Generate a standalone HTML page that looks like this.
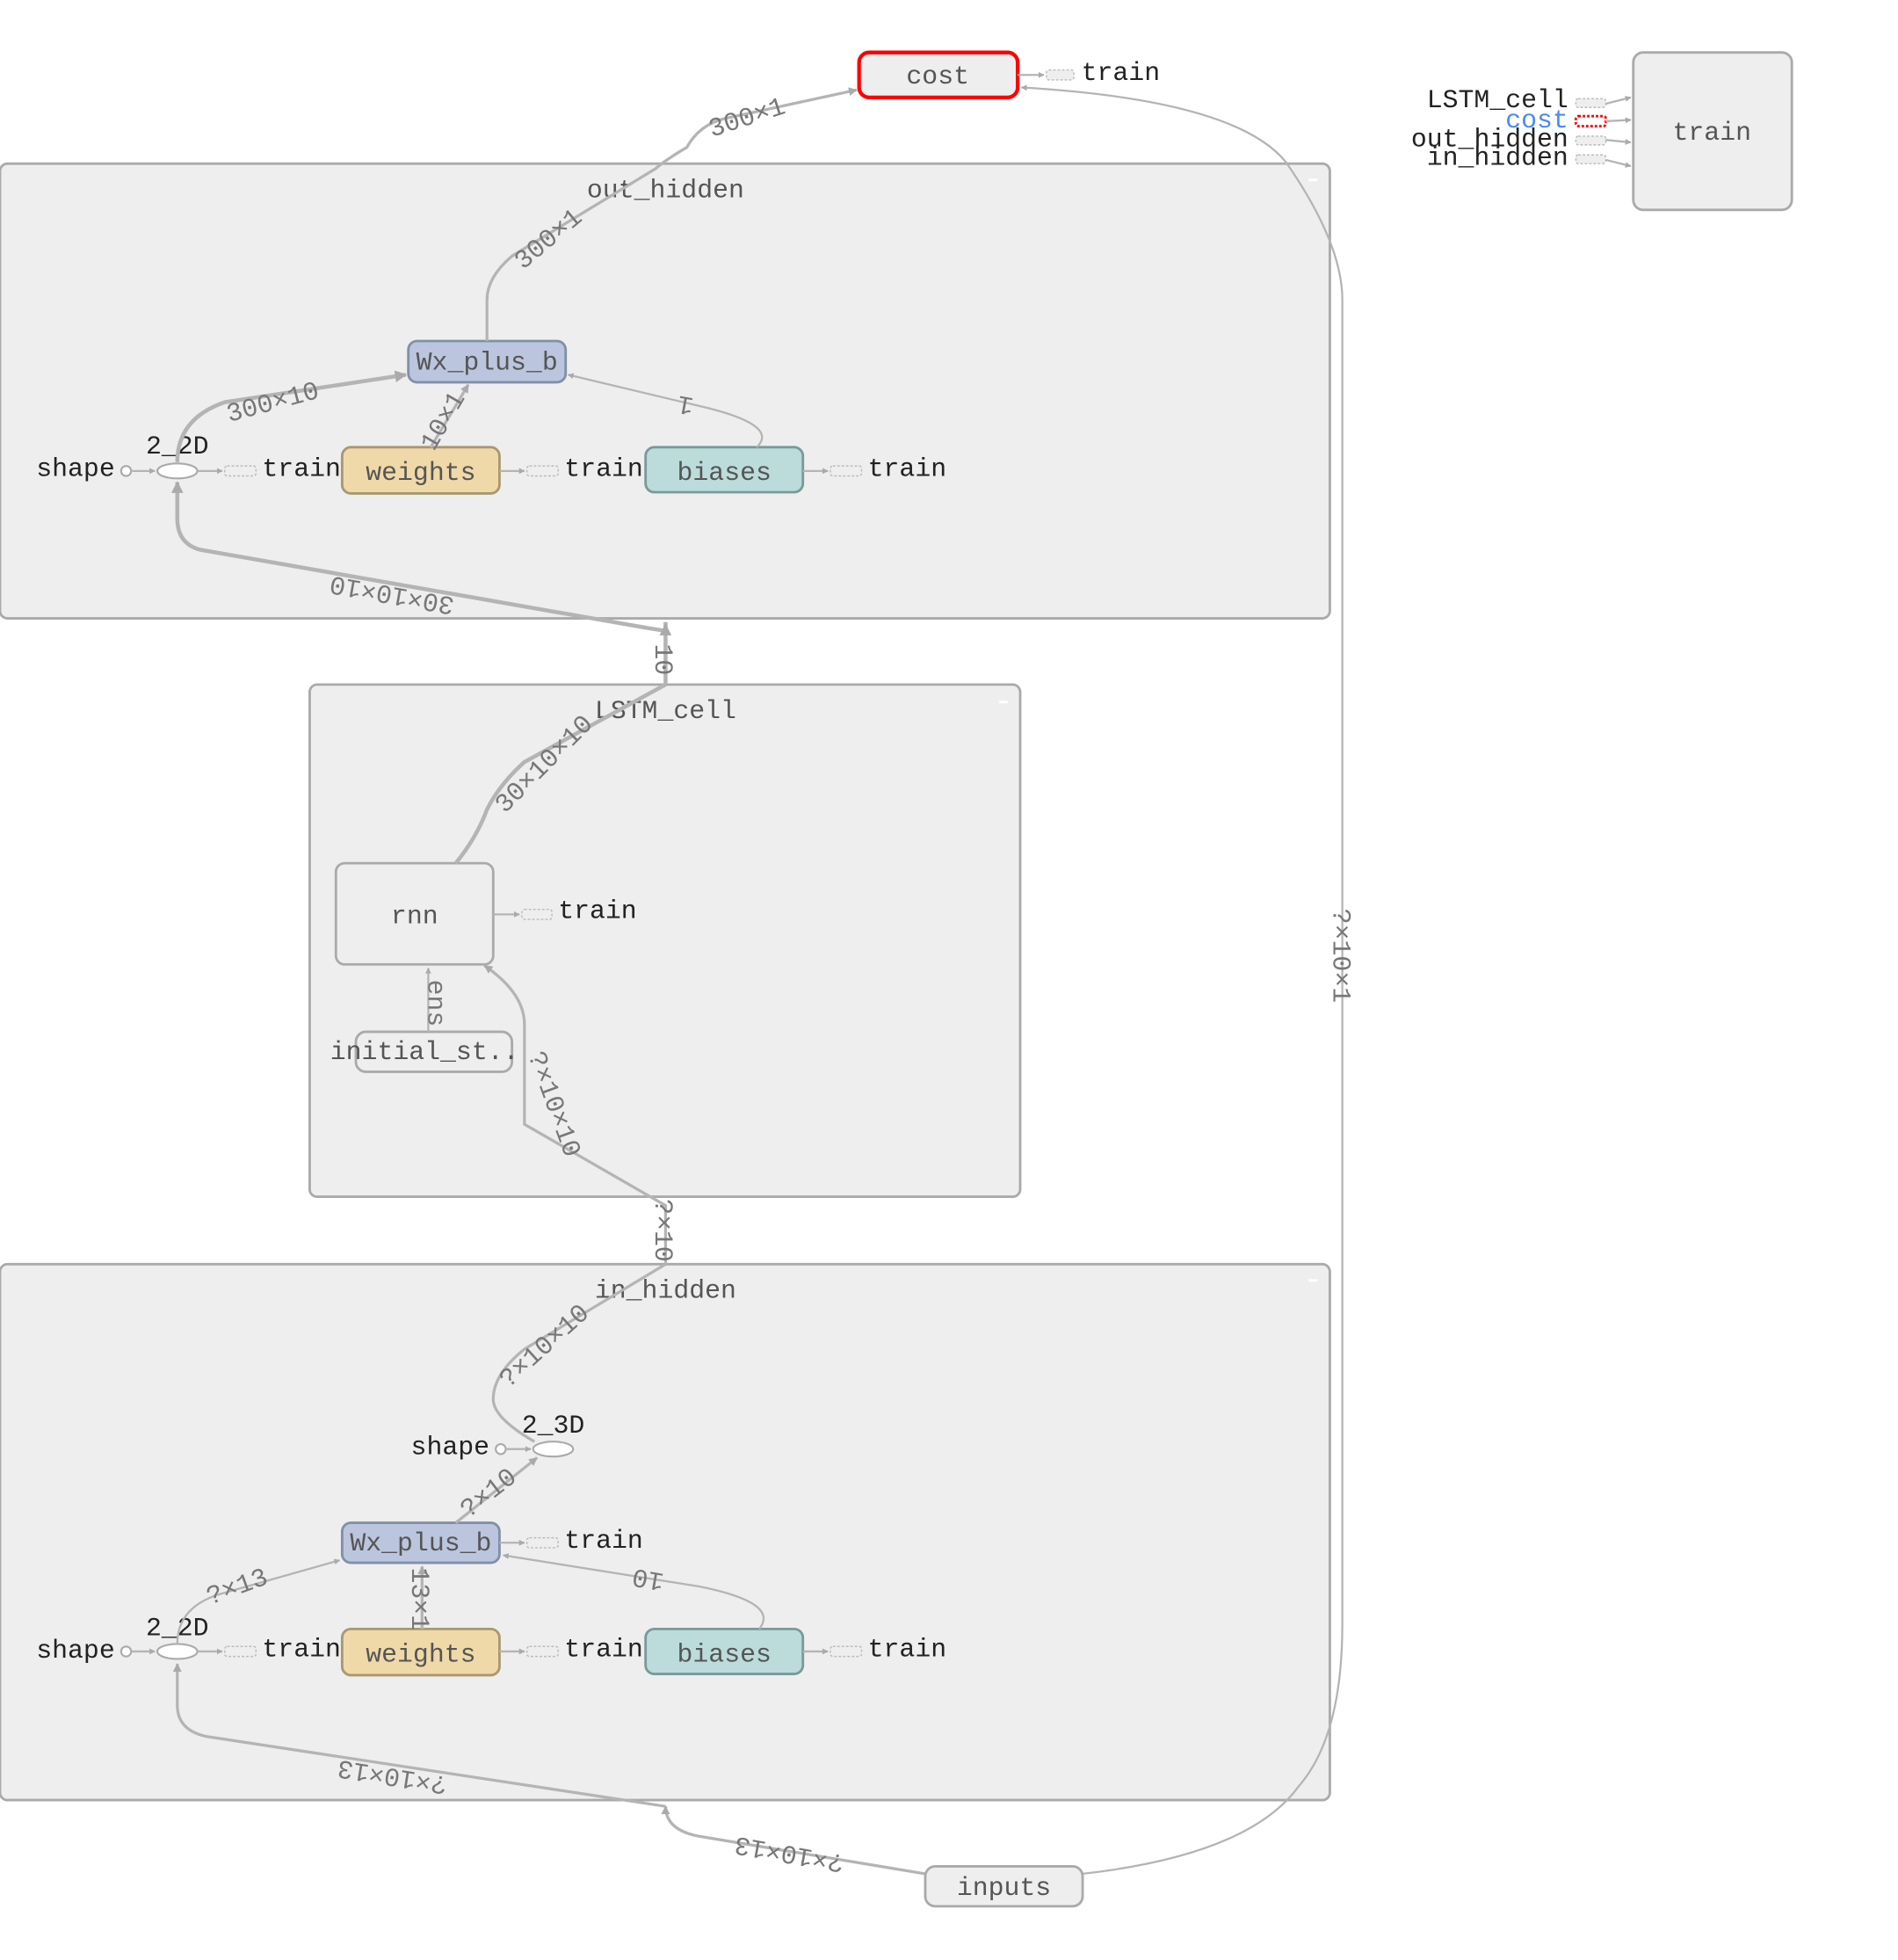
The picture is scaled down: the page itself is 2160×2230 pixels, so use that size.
<!DOCTYPE html>
<html><head><meta charset="utf-8"><style>
html,body{margin:0;padding:0;background:#fff;}
svg{display:block;}
text{font-family:"Liberation Mono","Noto Sans CJK SC",monospace;font-size:21px;fill:#222;}
.g{fill:#555;}
.el{fill:#777;font-size:21px;}
.e{fill:none;stroke:#b4b4b4;stroke-width:1.6;}
.t{fill:none;stroke:#b4b4b4;stroke-width:3.2;}
.m{fill:none;stroke:#b4b4b4;stroke-width:2.3;}
.cl{fill:#eeeeee;stroke:#aaaaaa;stroke-width:2;}
.sm{fill:#eee;stroke:#bbb;stroke-width:1;stroke-dasharray:2,1.5;}
</style></head><body>
<svg width="2160" height="2230" viewBox="0 0 1520 1569" preserveAspectRatio="none" xmlns="http://www.w3.org/2000/svg">
<defs>
<marker id="a" viewBox="0 0 10 10" refX="9" refY="5" markerWidth="5" markerHeight="5" orient="auto"><path d="M0,0L10,5L0,10z" fill="#aaa"/></marker>
<marker id="as" viewBox="0 0 10 10" refX="9" refY="5" markerWidth="3" markerHeight="3" orient="auto"><path d="M0,0L10,5L0,10z" fill="#aaa"/></marker>
</defs>

<!-- clusters -->
<rect class="cl" x="0" y="131" width="1065" height="364" rx="6"/>
<text class="g" x="533" y="158" text-anchor="middle">out_hidden</text>
<rect class="cl" x="248" y="548" width="569" height="410" rx="6"/>
<text class="g" x="533" y="575" text-anchor="middle">LSTM_cell</text>
<rect class="cl" x="0" y="1012" width="1065" height="429" rx="6"/>
<text class="g" x="533" y="1039" text-anchor="middle">in_hidden</text>
<rect x="1048" y="143" width="7" height="2" fill="#fff"/>
<rect x="800" y="561" width="7" height="2" fill="#fff"/>
<rect x="1048" y="1024" width="7" height="2" fill="#fff"/>

<!-- top: cost -->
<rect x="688" y="42" width="127" height="36" rx="8" fill="#eee" stroke="#f00" stroke-width="3"/>
<text class="g" x="751" y="67" text-anchor="middle">cost</text>
<path class="e" d="M815,60L836,60" marker-end="url(#as)"/>
<rect class="sm" x="838" y="56" width="22" height="8" rx="2"/>
<text x="866" y="64">train</text>

<!-- train box right -->
<rect x="1308" y="42" width="127" height="126" rx="8" fill="#eee" stroke="#aaa" stroke-width="2"/>
<text class="g" x="1371" y="112" text-anchor="middle">train</text>
<text x="1256" y="86" text-anchor="end">LSTM_cell</text>
<text x="1256" y="102" text-anchor="end" style="fill:#4a8af4">cost</text>
<text x="1256" y="117" text-anchor="end">out_hidden</text>
<text x="1256" y="132" text-anchor="end">in_hidden</text>
<rect class="sm" x="1262" y="79" width="24" height="7" rx="2"/>
<rect x="1262" y="93" width="24" height="8" rx="2" fill="#fff" stroke="#f00" stroke-width="2" stroke-dasharray="2,1.5"/>
<rect class="sm" x="1262" y="109" width="24" height="7" rx="2"/>
<rect class="sm" x="1262" y="124" width="24" height="7" rx="2"/>
<path class="e" d="M1286,83L1306,78" marker-end="url(#as)"/>
<path class="e" d="M1286,97L1306,96" marker-end="url(#as)"/>
<path class="e" d="M1286,112L1306,114" marker-end="url(#as)"/>
<path class="e" d="M1286,128L1306,133" marker-end="url(#as)"/>

<!-- out_hidden nodes -->
<rect x="327" y="273" width="126" height="33" rx="7" fill="#bbc5de" stroke="#8090a8" stroke-width="2"/>
<text class="g" x="390" y="296" text-anchor="middle">Wx_plus_b</text>
<rect x="274" y="358" width="126" height="37" rx="7" fill="#f0d9a8" stroke="#a89870" stroke-width="2"/>
<text class="g" x="337" y="384" text-anchor="middle">weights</text>
<rect x="517" y="358" width="126" height="36" rx="7" fill="#bcdcdb" stroke="#7a9a98" stroke-width="2"/>
<text class="g" x="580" y="384" text-anchor="middle">biases</text>
<text x="92" y="381" text-anchor="end">shape</text>
<circle cx="101" cy="377" r="4" fill="#fff" stroke="#aaa" stroke-width="1.5"/>
<path class="e" d="M105,377L124,377" marker-end="url(#as)"/>
<ellipse cx="142" cy="377" rx="16" ry="6" fill="#fff" stroke="#aaa" stroke-width="1.5"/>
<text x="142" y="363" text-anchor="middle">2_2D</text>
<path class="e" d="M158,377L178,377" marker-end="url(#as)"/>
<rect class="sm" x="180" y="373" width="25" height="8" rx="2"/>
<text x="210" y="381">train</text>
<path class="e" d="M400,377L420,377" marker-end="url(#as)"/>
<rect class="sm" x="422" y="373" width="25" height="8" rx="2"/>
<text x="452" y="381">train</text>
<path class="e" d="M643,377L663,377" marker-end="url(#as)"/>
<rect class="sm" x="665" y="373" width="25" height="8" rx="2"/>
<text x="695" y="381">train</text>

<!-- out_hidden edges -->
<path class="t" d="M533,498L533,505Q533,505 520,503L160,440Q142,435 142,415L142,386" marker-end="url(#as)"/>
<text class="el" transform="translate(315,470) rotate(190)" text-anchor="middle">30×10×10</text>
<path class="t" d="M142,370Q142,335 180,322L325,300" marker-end="url(#as)"/>
<text class="el" transform="translate(220,328) rotate(-15)" text-anchor="middle">300×10</text>
<path class="m" d="M345,358L375,308" marker-end="url(#as)"/>
<text class="el" transform="translate(360,340) rotate(-60)" text-anchor="middle">10×1</text>
<path class="e" d="M606,358Q625,340 560,325L455,300" marker-end="url(#as)"/>
<text class="el" transform="translate(550,318) rotate(190)" text-anchor="middle">1</text>
<path class="m" d="M390,273L390,240Q390,222 410,205L525,135Q533,128 550,118Q560,100 580,95L686,72" marker-end="url(#as)"/>
<text class="el" transform="translate(443,196) rotate(-40)" text-anchor="middle">300×1</text>
<text class="el" transform="translate(600,100) rotate(-18)" text-anchor="middle">300×1</text>

<!-- LSTM→out -->
<path class="t" d="M533,548L533,500" marker-end="url(#as)"/>
<text class="el" transform="translate(525,528) rotate(90)" text-anchor="middle">10</text>

<!-- LSTM nodes -->
<rect x="269" y="691" width="126" height="81" rx="7" fill="#eee" stroke="#aaa" stroke-width="2"/>
<text class="g" x="332" y="739" text-anchor="middle">rnn</text>
<path class="e" d="M395,732L416,732" marker-end="url(#as)"/>
<rect class="sm" x="418" y="728" width="24" height="8" rx="2"/>
<text x="447" y="735">train</text>
<rect x="285" y="826" width="125" height="32" rx="8" fill="#eee" stroke="#aaa" stroke-width="2"/>
<text class="g" x="340" y="848" text-anchor="middle">initial_st..</text>
<path class="e" d="M343,826L343,775" marker-end="url(#as)"/>
<text class="el" transform="translate(343,803) rotate(90)" text-anchor="middle">ens</text>
<path class="t" d="M365,691Q382,670 390,648Q400,628 420,610L533,548"/>
<text class="el" transform="translate(440,616) rotate(-45)" text-anchor="middle">30×10×10</text>
<path class="m" d="M533,1012L533,965L420,900L420,820Q420,795 388,773" marker-end="url(#as)"/>
<text class="el" transform="translate(438,886) rotate(70)" text-anchor="middle">?×10×10</text>
<text class="el" transform="translate(525,985) rotate(90)" text-anchor="middle">?×10</text>

<!-- right long edge inputs→cost -->
<path class="e" d="M867,1500Q1000,1485 1040,1430Q1075,1390 1075,1300L1075,240Q1075,195 1030,130Q990,80 818,70" marker-end="url(#as)"/>
<text class="el" transform="translate(1068,765) rotate(90)" text-anchor="middle">?×10×1</text>

<!-- in_hidden nodes -->
<rect x="274" y="1219" width="126" height="32" rx="7" fill="#bbc5de" stroke="#8090a8" stroke-width="2"/>
<text class="g" x="337" y="1241" text-anchor="middle">Wx_plus_b</text>
<path class="e" d="M400,1235L420,1235" marker-end="url(#as)"/>
<rect class="sm" x="422" y="1231" width="25" height="8" rx="2"/>
<text x="452" y="1239">train</text>
<rect x="274" y="1304" width="126" height="37" rx="7" fill="#f0d9a8" stroke="#a89870" stroke-width="2"/>
<text class="g" x="337" y="1330" text-anchor="middle">weights</text>
<rect x="517" y="1304" width="126" height="36" rx="7" fill="#bcdcdb" stroke="#7a9a98" stroke-width="2"/>
<text class="g" x="580" y="1330" text-anchor="middle">biases</text>
<text x="92" y="1327" text-anchor="end">shape</text>
<circle cx="101" cy="1322" r="4" fill="#fff" stroke="#aaa" stroke-width="1.5"/>
<path class="e" d="M105,1322L124,1322" marker-end="url(#as)"/>
<ellipse cx="142" cy="1322" rx="16" ry="6" fill="#fff" stroke="#aaa" stroke-width="1.5"/>
<text x="142" y="1309" text-anchor="middle">2_2D</text>
<path class="e" d="M158,1322L178,1322" marker-end="url(#as)"/>
<rect class="sm" x="180" y="1318" width="25" height="8" rx="2"/>
<text x="210" y="1326">train</text>
<path class="e" d="M400,1322L420,1322" marker-end="url(#as)"/>
<rect class="sm" x="422" y="1318" width="25" height="8" rx="2"/>
<text x="452" y="1326">train</text>
<path class="e" d="M643,1322L663,1322" marker-end="url(#as)"/>
<rect class="sm" x="665" y="1318" width="25" height="8" rx="2"/>
<text x="695" y="1326">train</text>
<text x="392" y="1164" text-anchor="end">shape</text>
<circle cx="401" cy="1160" r="4" fill="#fff" stroke="#aaa" stroke-width="1.5"/>
<path class="e" d="M405,1160L425,1160" marker-end="url(#as)"/>
<ellipse cx="443" cy="1160" rx="16" ry="6" fill="#fff" stroke="#aaa" stroke-width="1.5"/>
<text x="443" y="1147" text-anchor="middle">2_3D</text>

<!-- in_hidden edges -->
<path class="m" d="M741,1500L560,1470Q533,1465 533,1446" marker-end="url(#as)"/>
<text class="el" transform="translate(633,1478) rotate(190)" text-anchor="middle">?×10×13</text>
<path class="m" d="M533,1446L165,1390Q142,1385 142,1365L142,1332" marker-end="url(#as)"/>
<text class="el" transform="translate(315,1416) rotate(189)" text-anchor="middle">?×10×13</text>
<path class="e" d="M142,1316Q142,1285 180,1275L272,1249" marker-end="url(#as)"/>
<text class="el" transform="translate(192,1276) rotate(-20)" text-anchor="middle">?×13</text>
<path class="m" d="M338,1304L338,1254" marker-end="url(#as)"/>
<text class="el" transform="translate(330,1280) rotate(90)" text-anchor="middle">13×1</text>
<path class="e" d="M608,1304Q625,1283 560,1270L403,1245" marker-end="url(#as)"/>
<text class="el" transform="translate(520,1258) rotate(190)" text-anchor="middle">10</text>
<path class="m" d="M365,1219L430,1167" marker-end="url(#as)"/>
<text class="el" transform="translate(395,1200) rotate(-38)" text-anchor="middle">?×10</text>
<path class="m" d="M428,1154Q395,1135 395,1120Q395,1100 420,1080L533,1012"/>
<text class="el" transform="translate(440,1082) rotate(-42)" text-anchor="middle">?×10×10</text>

<!-- inputs -->
<rect x="741" y="1494" width="126" height="32" rx="8" fill="#eee" stroke="#aaa" stroke-width="2"/>
<text class="g" x="804" y="1517" text-anchor="middle">inputs</text>
</svg>
</body></html>
